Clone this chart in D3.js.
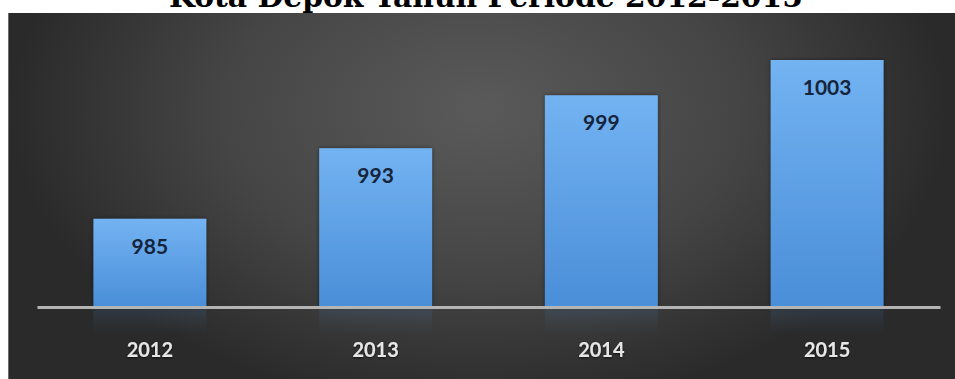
<!DOCTYPE html>
<html>
<head>
<meta charset="utf-8">
<script src="https://cdn.jsdelivr.net/npm/d3@7"></script>
<style>
  html, body { margin: 0; padding: 0; background: #ffffff; }
  svg { display: block; }
</style>
</head>
<body>
<script>
// Jumlah per tahun, Kota Depok 2012-2015
const years = ["2012", "2013", "2014", "2015"];
const values = [985, 993, 999, 1003];
const titleText = "Kota Depok Tahun Periode 2012-2015";

const W = 955, H = 379;
const panel = { x: 8, y: 13, w: W - 8, h: H - 13 };
const plot = { left: 37, right: 940, baseY: 307, topY: 60 };

const svg = d3.select("body").append("svg")
  .attr("width", W).attr("height", H);

const defs = svg.append("defs");

// dark panel with a soft central glow
const bg = defs.append("radialGradient")
  .attr("id", "panelGlow")
  .attr("gradientUnits", "userSpaceOnUse")
  .attr("cx", 0).attr("cy", 0).attr("r", 1)
  .attr("gradientTransform", "translate(480,110) scale(470,300)");
bg.append("stop").attr("offset", 0).attr("stop-color", "#5a5a5a");
bg.append("stop").attr("offset", 0.55).attr("stop-color", "#454545");
bg.append("stop").attr("offset", 1).attr("stop-color", "#2a2a2a");

const barGrad = defs.append("linearGradient")
  .attr("id", "barFill").attr("x1", 0).attr("y1", 0).attr("x2", 0).attr("y2", 1);
barGrad.append("stop").attr("offset", 0).attr("stop-color", "#73b3f2");
barGrad.append("stop").attr("offset", 1).attr("stop-color", "#4a8ed8");

const reflGrad = defs.append("linearGradient")
  .attr("id", "barReflect").attr("x1", 0).attr("y1", 0).attr("x2", 0).attr("y2", 1);
reflGrad.append("stop").attr("offset", 0).attr("stop-color", "#4a8ed8").attr("stop-opacity", 0.14);
reflGrad.append("stop").attr("offset", 1).attr("stop-color", "#4a8ed8").attr("stop-opacity", 0);

const shadow = defs.append("filter").attr("id", "barShadow")
  .attr("x", "-10%").attr("y", "-10%").attr("width", "120%").attr("height", "120%");
shadow.append("feDropShadow")
  .attr("dx", 0).attr("dy", 0).attr("stdDeviation", 2)
  .attr("flood-color", "#000").attr("flood-opacity", 0.45);

const txtShadow = defs.append("filter").attr("id", "txtShadow")
  .attr("x", "-20%").attr("y", "-30%").attr("width", "140%").attr("height", "160%");
txtShadow.append("feDropShadow")
  .attr("dx", 0).attr("dy", 1).attr("stdDeviation", 1.2)
  .attr("flood-color", "#000").attr("flood-opacity", 0.7);

// title (sits above the panel, partly clipped by the top edge)
const title = svg.append("text")
  .attr("x", 486).attr("y", 7)
  .attr("text-anchor", "middle")
  .attr("font-family", "'DejaVu Serif', 'Liberation Serif', serif")
  .attr("font-weight", "bold")
  .attr("font-size", 24)
  .attr("fill", "#000")
  .text(titleText);
const tw = title.node().getComputedTextLength();
title.attr("font-size", 24 * 634 / tw);

svg.append("rect")
  .attr("x", panel.x).attr("y", panel.y)
  .attr("width", panel.w).attr("height", panel.h)
  .attr("fill", "url(#panelGlow)");
svg.append("line")
  .attr("x1", panel.x + 0.5).attr("x2", panel.x + 0.5)
  .attr("y1", panel.y).attr("y2", H)
  .attr("stroke", "#6c6c6c").attr("stroke-width", 1);

const x = d3.scaleBand()
  .domain(years)
  .range([plot.left, plot.right])
  .paddingInner(0.5)
  .paddingOuter(0.25);

const y = d3.scaleLinear()
  .domain([975, 1003])
  .range([plot.baseY, plot.topY]);

const data = years.map((yr, i) => ({ year: yr, value: values[i] }));

// faint reflection under each bar
svg.append("g").selectAll("rect")
  .data(data).join("rect")
  .attr("x", d => x(d.year))
  .attr("y", plot.baseY + 2)
  .attr("width", x.bandwidth())
  .attr("height", 24)
  .attr("fill", "url(#barReflect)");

svg.append("g").selectAll("rect")
  .data(data).join("rect")
  .attr("x", d => x(d.year))
  .attr("y", d => y(d.value))
  .attr("width", x.bandwidth())
  .attr("height", d => y.range()[0] - y(d.value))
  .attr("fill", "url(#barFill)")
  .attr("filter", "url(#barShadow)");

// baseline axis
const axis = svg.append("g")
  .attr("transform", `translate(0,${plot.baseY})`)
  .call(d3.axisBottom(x).tickSize(0).tickPadding(36));
axis.select(".domain")
  .attr("stroke", "#b4b4b4").attr("stroke-width", 3);
axis.selectAll(".tick text")
  .attr("font-family", "Lato, 'Open Sans', sans-serif")
  .attr("font-weight", 700)
  .attr("font-size", 20)
  .attr("fill", "#e6e6e6")
  .attr("filter", "url(#txtShadow)");

// value labels inside the bars
svg.append("g").selectAll("text")
  .data(data).join("text")
  .attr("x", d => x(d.year) + x.bandwidth() / 2)
  .attr("y", d => y(d.value) + 35)
  .attr("text-anchor", "middle")
  .attr("font-family", "Lato, 'Open Sans', sans-serif")
  .attr("font-weight", 700)
  .attr("font-size", 21)
  .attr("fill", "#15243a")
  .text(d => d.value);
</script>
</body>
</html>
